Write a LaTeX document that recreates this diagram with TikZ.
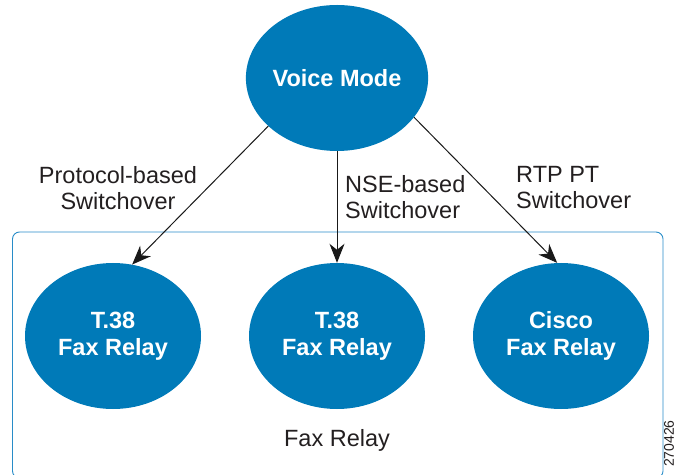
\documentclass[tikz,border=0pt]{standalone}
\usepackage{fontspec}
\setmainfont{Liberation Sans}
\usetikzlibrary{arrows.meta,shapes.geometric}
\definecolor{faxblue}{RGB}{0,122,184}
\definecolor{boxblue}{RGB}{40,140,200}
\definecolor{labelgray}{RGB}{35,31,32}

\begin{document}
\begin{tikzpicture}[x=1pt,y=1pt,
  mode/.style={ellipse,fill=faxblue,text=white,minimum width=176pt,minimum height=146pt,inner sep=0pt,align=center,font=\fontsize{23.5}{27}\selectfont\bfseries},
  switch/.style={text=labelgray,font=\fontsize{23.5}{26}\selectfont,inner sep=0pt},
  link/.style={-{Stealth[length=19pt,width=15pt,inset=6pt]},line width=1pt,black!90}]
\useasboundingbox (0,0) rectangle (676,474);
\draw[boxblue,line width=0.9pt,rounded corners=7pt] (12.5,-4) rectangle (663,242);
\node[mode] (voice) at (337,396) {Voice Mode};
\node[mode] (t38a) at (113,138) {T.38\\Fax Relay};
\node[mode] (t38b) at (337,138) {T.38\\Fax Relay};
\node[mode] (cisco) at (561,138) {Cisco\\Fax Relay};
\draw[link] (voice.215) -- (t38a.75);
\draw[link] (voice.south) -- (t38b.north);
\draw[link] (voice.333) -- (cisco.93);
\node[switch,align=center] (proto) at (118,286) {Protocol-based\\Switchover};
\node[switch,align=left,anchor=west] (nse) at (345,277) {NSE-based\\Switchover};
\node[switch,align=left,anchor=west] (rtp) at (516,286) {RTP PT\\Switchover};
\node[switch] (faxrelay) at (337,34) {Fax Relay};
\node[rotate=90,anchor=east,inner sep=0pt,text=labelgray,font=\fontsize{14}{14}\selectfont] (figno) at (669,54) {270426};
\end{tikzpicture}
\end{document}
